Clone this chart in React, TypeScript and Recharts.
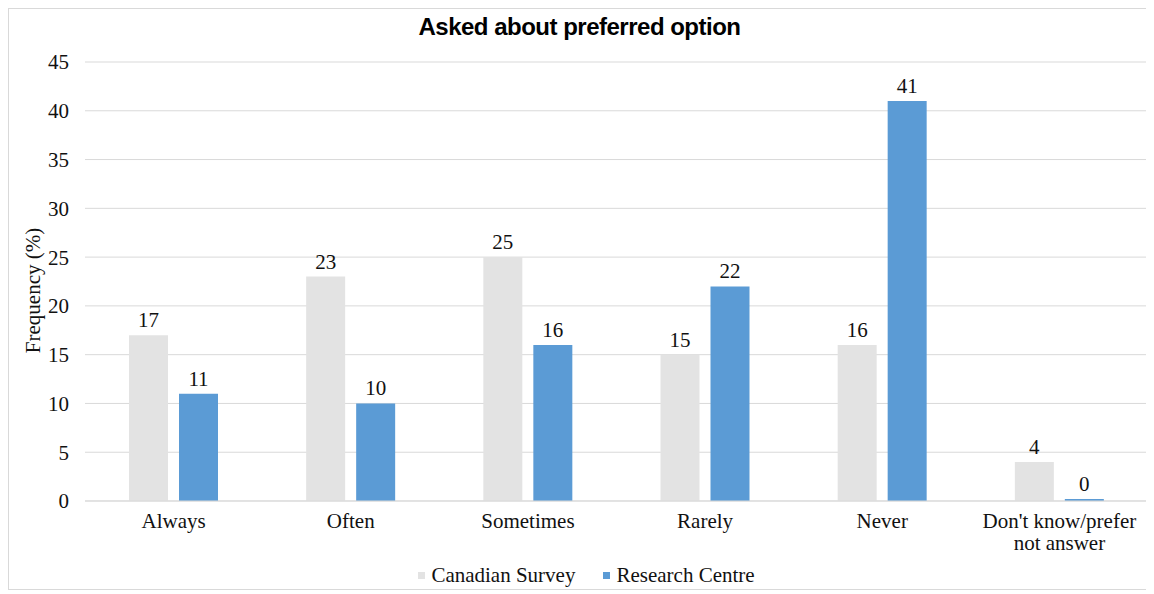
import { BarChart, Bar, XAxis, YAxis, CartesianGrid, LabelList, Legend } from 'recharts';

const categories = ['Always', 'Often', 'Sometimes', 'Rarely', 'Never', "Don't know/prefer not answer"];
const canadianSurvey = [17, 23, 25, 15, 16, 4];
const researchCentre = [11, 10, 16, 22, 41, 0];
const yTicks = [0, 5, 10, 15, 20, 25, 30, 35, 40, 45];

const SERIF = '"Liberation Serif", "Times New Roman", serif';
const FS = 21;

const data = categories.map((name, i) => ({
  name,
  canadian: canadianSurvey[i],
  research: researchCentre[i],
}));

// greedy wrap by character count, Excel-style
const wrapLabel = (label: string, maxChars = 17) => {
  const words = label.split(' ');
  const lines: string[] = [];
  let cur = '';
  words.forEach((w) => {
    const next = cur ? `${cur} ${w}` : w;
    if (next.length > maxChars && cur) {
      lines.push(cur);
      cur = w;
    } else {
      cur = next;
    }
  });
  if (cur) lines.push(cur);
  return lines;
};

const CategoryTick = (props: any) => {
  const { x, y, payload } = props;
  const lines = wrapLabel(payload.value);
  return (
    <text x={x} y={y} textAnchor="middle" fontFamily={SERIF} fontSize={FS} fill="#111">
      {lines.map((line, i) => (
        <tspan key={i} x={x} dy={i === 0 ? '0.9em' : 22}>
          {line}
        </tspan>
      ))}
    </text>
  );
};

const LegendContent = () => {
  const items = [
    { label: 'Canadian Survey', color: '#e3e3e3' },
    { label: 'Research Centre', color: '#5b9bd5' },
  ];
  return (
    <div style={{ display: 'flex', justifyContent: 'center', gap: 28, fontFamily: SERIF, fontSize: FS, color: '#111' }}>
      {items.map((item) => (
        <div key={item.label} style={{ display: 'flex', alignItems: 'center' }}>
          <span style={{ width: 7, height: 7, background: item.color, marginRight: 6, display: 'inline-block' }} />
          {item.label}
        </div>
      ))}
    </div>
  );
};

const App = () => {
  return (
    <div style={{ position: 'relative', width: 1141, height: 580, border: '1px solid #d9d9d9', background: '#fff' }}>
      <div
        style={{
          position: 'absolute',
          top: 4,
          left: 0,
          width: '100%',
          textAlign: 'center',
          fontFamily: '"Liberation Sans", Arial, sans-serif',
          fontWeight: 'bold',
          fontSize: 24,
          letterSpacing: -0.5,
          color: '#000',
        }}
      >
        Asked about preferred option
      </div>
      <BarChart
        width={1141}
        height={580}
        data={data}
        margin={{ top: 53, right: 2, left: 16, bottom: 0 }}
        barSize={39}
        barGap={11}
      >
        <CartesianGrid vertical={false} stroke="#d9d9d9" />
        <XAxis
          dataKey="name"
          axisLine={{ stroke: '#d9d9d9' }}
          tickLine={false}
          tick={<CategoryTick />}
          height={62}
          interval={0}
        />
        <YAxis
          domain={[0, 45]}
          ticks={yTicks}
          axisLine={false}
          tickLine={false}
          width={60}
          tick={{ fontFamily: SERIF, fontSize: FS, fill: '#111' }}
          tickMargin={10}
          label={{
            value: 'Frequency (%)',
            angle: -90,
            position: 'insideLeft',
            dx: 3,
            dy: 9,
            style: { fontFamily: SERIF, fontSize: FS, fill: '#111', textAnchor: 'middle' },
          }}
        />
        <Legend verticalAlign="bottom" height={26} content={<LegendContent />} />
        <Bar dataKey="canadian" name="Canadian Survey" fill="#e3e3e3" isAnimationActive={false}>
          <LabelList dataKey="canadian" position="top" offset={8} style={{ fontFamily: SERIF, fontSize: FS, fill: '#111' }} />
        </Bar>
        <Bar dataKey="research" name="Research Centre" fill="#5b9bd5" minPointSize={2} isAnimationActive={false}>
          <LabelList dataKey="research" position="top" offset={8} style={{ fontFamily: SERIF, fontSize: FS, fill: '#111' }} />
        </Bar>
      </BarChart>
    </div>
  );
};

export default App;
